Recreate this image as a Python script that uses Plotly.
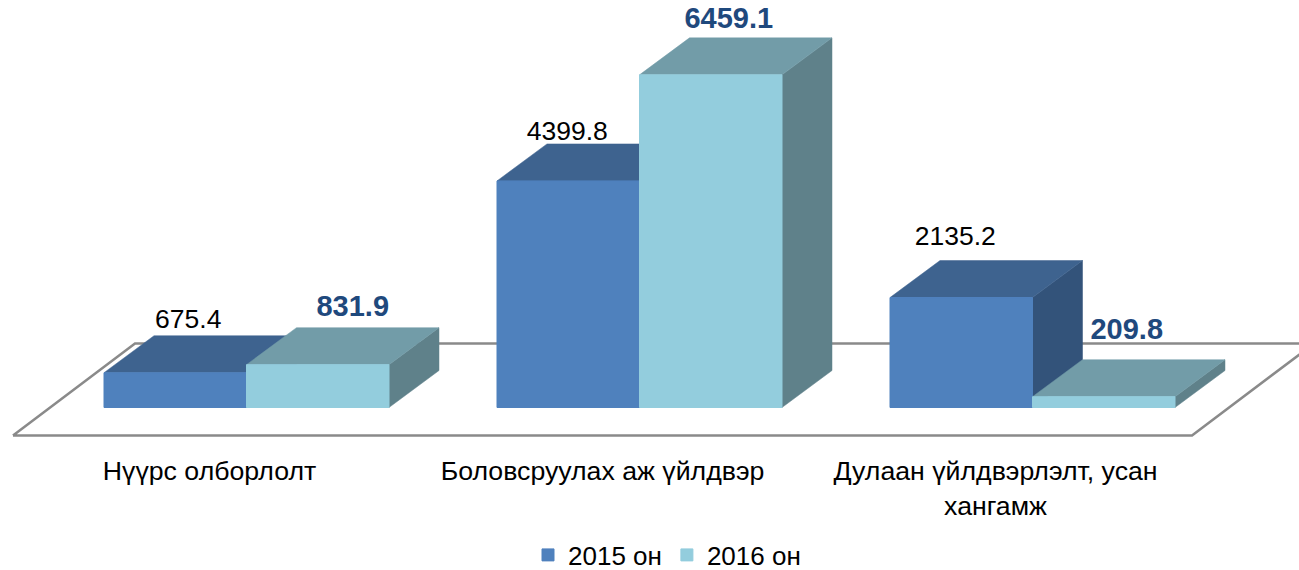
import plotly.graph_objects as go

categories = ["Нүүрс олборлолт", "Боловсруулах аж үйлдвэр", "Дулаан үйлдвэрлэлт, усан<br>хангамж"]
series_names = ["2015 он", "2016 он"]
values_2015 = [675.4, 4399.8, 2135.2]
values_2016 = [831.9, 6459.1, 209.8]

# layout geometry (pixels)
W, H = 1299, 570
PLOT_BOTTOM = 445
BASE_Y = 407.5
PX_PER_VALUE = 0.0515
GROUP_STEP = 393
FIRST_GROUP = 246.5
BAR_PX = 142.5
DEPTH_X_PX, DEPTH_Y_PX = 50, 37

xr = [-FIRST_GROUP / GROUP_STEP, (W - FIRST_GROUP) / GROUP_STEP]
yr = [-(PLOT_BOTTOM - BASE_Y) / PX_PER_VALUE, BASE_Y / PX_PER_VALUE]
bar_w = BAR_PX / GROUP_STEP
dx, dy = DEPTH_X_PX / GROUP_STEP, DEPTH_Y_PX / PX_PER_VALUE
px_x = 1 / GROUP_STEP
px_y = 1 / PX_PER_VALUE

colors = {
    "2015": dict(front="#4F81BD", top="#3E638F", side="#33537A"),
    "2016": dict(front="#93CDDD", top="#729CA8", side="#5F818A"),
}
FONT = "Liberation Sans"

fig = go.Figure()

# floor parallelogram
floor_front_y = -(435.5 - BASE_Y) * px_y
floor_back_y = (BASE_Y - 343.5) * px_y
floor_x0 = (13 - FIRST_GROUP) * px_x
floor_x1 = (1192 - FIRST_GROUP) * px_x
floor_dx = 122 * px_x
fig.add_trace(go.Scatter(
    x=[floor_x0, floor_x1, floor_x1 + floor_dx, floor_x0 + floor_dx, floor_x0],
    y=[floor_front_y, floor_front_y, floor_back_y, floor_back_y, floor_front_y],
    mode="lines", line=dict(color="#8A8A8A", width=2.5),
    showlegend=False, hoverinfo="skip"))


def face(xs, ys, color):
    fig.add_trace(go.Scatter(x=xs, y=ys, mode="lines", fill="toself", fillcolor=color,
                             line=dict(color=color, width=0.5),
                             showlegend=False, hoverinfo="skip"))


def add_faces(vals, left_offset, pal):
    for i, v in enumerate(vals):
        x0 = i + left_offset
        x1 = x0 + bar_w
        face([x1, x1 + dx, x1 + dx, x1, x1], [0, dy, v + dy, v, 0], pal["side"])
        face([x0, x1, x1 + dx, x0 + dx, x0], [v, v, v + dy, v + dy, v], pal["top"])


add_faces(values_2015, -bar_w, colors["2015"])
add_faces(values_2016, 0, colors["2016"])

# front faces on an overlaid axis pair so they paint above the side and top faces
cat_x = [0, 1, 2]
fig.add_trace(go.Bar(x=cat_x, y=values_2015, name=series_names[0], marker_color=colors["2015"]["front"],
                     marker_line=dict(width=1, color=colors["2015"]["front"]),
                     xaxis="x2", yaxis="y2", hoverinfo="skip"))
fig.add_trace(go.Bar(x=cat_x, y=values_2016, name=series_names[1], marker_color=colors["2016"]["front"],
                     marker_line=dict(width=1, color=colors["2016"]["front"]),
                     xaxis="x2", yaxis="y2", hoverinfo="skip"))

# value labels: offsets in pixels from the centre of the bar's front top edge
offs_2015 = [(13, 51), (-1, 48), (-6, 59)]
offs_2016 = [(35, 56), (18, 54), (23, 65)]
fig.add_trace(go.Scatter(
    x=[i - bar_w / 2 + o[0] * px_x for i, o in enumerate(offs_2015)],
    y=[v + o[1] * px_y for v, o in zip(values_2015, offs_2015)],
    text=[f"{v:.1f}" for v in values_2015], mode="text",
    textfont=dict(family=FONT, size=26.5, color="#000000"),
    xaxis="x2", yaxis="y2", showlegend=False, hoverinfo="skip"))
fig.add_trace(go.Scatter(
    x=[i + bar_w / 2 + o[0] * px_x for i, o in enumerate(offs_2016)],
    y=[v + o[1] * px_y for v, o in zip(values_2016, offs_2016)],
    text=[f"<b>{v:.1f}</b>" for v in values_2016], mode="text",
    textfont=dict(family=FONT, size=29, color="#1F497D"),
    xaxis="x2", yaxis="y2", showlegend=False, hoverinfo="skip"))

fig.update_layout(
    width=W, height=H, margin=dict(l=0, r=0, t=0, b=H - PLOT_BOTTOM),
    paper_bgcolor="white", plot_bgcolor="rgba(0,0,0,0)",
    barmode="group", bargap=1 - 2 * BAR_PX / GROUP_STEP, bargroupgap=0,
    font=dict(family=FONT, size=26, color="#000000"),
    xaxis=dict(range=xr, tickvals=[i - 37 * px_x for i in cat_x], ticktext=categories,
               showgrid=False, zeroline=False, showline=False, automargin=False,
               ticks="outside", ticklen=2, tickcolor="rgba(0,0,0,0)",
               tickfont=dict(family=FONT, size=26.7, color="#000000"), tickangle=0),
    yaxis=dict(range=yr, visible=False),
    xaxis2=dict(range=xr, overlaying="x", visible=False),
    yaxis2=dict(range=yr, overlaying="y", visible=False),
    legend=dict(orientation="h", xref="container", yref="container",
                x=667 / W, xanchor="center", y=(H - 555) / H, yanchor="middle",
                font=dict(family=FONT, size=26, color="#000000"),
                bgcolor="rgba(0,0,0,0)"),
)

fig.write_html("out.html", config=dict(displayModeBar=False),
               post_script="document.body.style.margin='0';")
